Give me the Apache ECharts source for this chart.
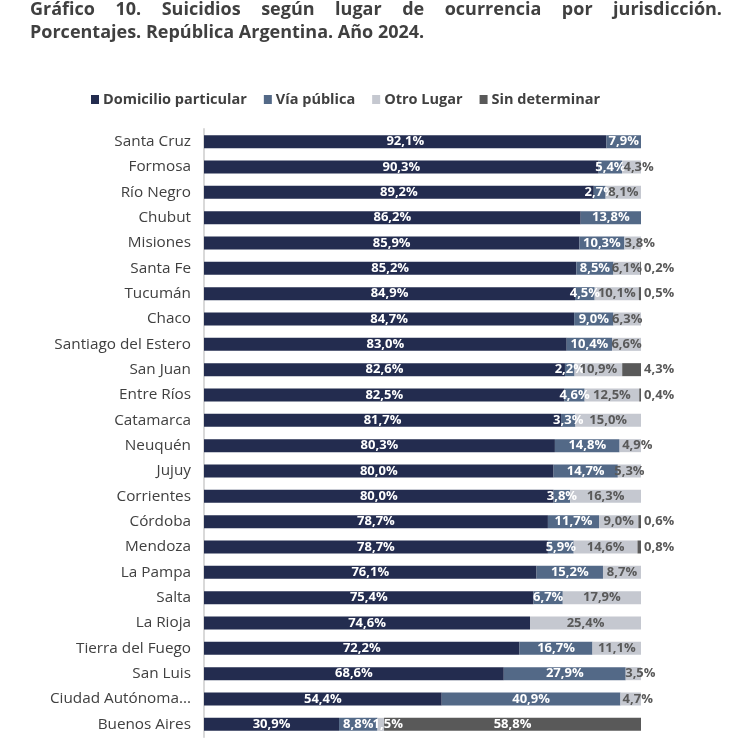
<!DOCTYPE html>
<html>
<head>
<meta charset="utf-8">
<script src="https://cdn.jsdelivr.net/npm/echarts@6/dist/echarts.min.js"></script>
<style>html,body{margin:0;padding:0;background:#fff}#c{width:736px;height:744px}</style>
</head>
<body>
<div id="c"></div>
<script>
var titleLine1 = 'Gráfico 10. Suicidios según lugar de ocurrencia por jurisdicción.';
var titleLine2 = 'Porcentajes. República Argentina. Año 2024.';
var seriesNames = ['Domicilio particular', 'Vía pública', 'Otro Lugar', 'Sin determinar'];
var categories = ['Santa Cruz','Formosa','Río Negro','Chubut','Misiones','Santa Fe','Tucumán','Chaco','Santiago del Estero','San Juan','Entre Ríos','Catamarca','Neuquén','Jujuy','Corrientes','Córdoba','Mendoza','La Pampa','Salta','La Rioja','Tierra del Fuego','San Luis','Ciudad Autónoma de Buenos Aires','Buenos Aires'];
var domicilio = [92.1,90.3,89.2,86.2,85.9,85.2,84.9,84.7,83.0,82.6,82.5,81.7,80.3,80.0,80.0,78.7,78.7,76.1,75.4,74.6,72.2,68.6,54.4,30.9];
var viaPublica = [7.9,5.4,2.7,13.8,10.3,8.5,4.5,9.0,10.4,2.2,4.6,3.3,14.8,14.7,3.8,11.7,5.9,15.2,6.7,0,16.7,27.9,40.9,8.8];
var otroLugar = [0,4.3,8.1,0,3.8,6.1,10.1,6.3,6.6,10.9,12.5,15.0,4.9,5.3,16.3,9.0,14.6,8.7,17.9,25.4,11.1,3.5,4.7,1.5];
var sinDeterminar = [0,0,0,0,0,0.2,0.5,0,0,4.3,0.4,0,0,0,0,0.6,0.8,0,0,0,0,0,0,58.8];

var colors = ['#232C4F', '#536987', '#C5C8D0', '#595959'];
var textDark = '#595959';
var FONT = '"Open Sans", "Noto Sans", sans-serif';

function fmt(v) { return v ? v.toFixed(1).replace('.', ',') + '%' : ''; }

function buildData(arr, idx) {
  return arr.map(function (v, k) {
    var item = { value: v === 0 ? null : v };
    if (idx === 2 && v > 0 && v < 5) {
      item.label = { offset: [7, 0] };
      if (sinDeterminar[k] > 10) item.label.color = '#ffffff';
    }
    if (idx === 3 && v > 0 && v < 5) {
      item.label = { position: 'right', distance: 3, color: textDark };
    }
    return item;
  });
}

var allSeries = [domicilio, viaPublica, otroLugar, sinDeterminar].map(function (arr, i) {
  return {
    name: seriesNames[i],
    type: 'bar',
    stack: 'total',
    barWidth: 13,
    itemStyle: { color: colors[i] },
    label: {
      show: true,
      position: 'inside',
      color: i === 2 ? textDark : '#ffffff',
      fontFamily: FONT,
      fontWeight: 'bold',
      fontSize: 13,
      formatter: function (p) { return fmt(p.value); }
    },
    data: buildData(arr, i)
  };
});

// Justified first title line
var titleFont = 'bold 18px "Open Sans"';
var ctx = document.createElement('canvas').getContext('2d');
ctx.font = titleFont;
var words = titleLine1.split(' ');
var leftX = 30, rightX = 722;
var totalW = 0;
var widths = words.map(function (w) { var m = ctx.measureText(w).width; totalW += m; return m; });
var gap = (rightX - leftX - totalW) / (words.length - 1);
var graphics = [];
var cx = leftX;
words.forEach(function (w, i) {
  graphics.push({ type: 'text', x: cx, y: 10, style: { text: w, font: titleFont, fill: '#404040', verticalAlign: 'middle', align: 'left' } });
  cx += widths[i] + gap;
});
graphics.push({ type: 'text', x: leftX, y: 33, style: { text: titleLine2, font: titleFont, fill: '#404040', verticalAlign: 'middle', align: 'left' } });

var chart = echarts.init(document.getElementById('c'), null, { renderer: 'canvas' });
chart.setOption({
  animation: false,
  graphic: graphics,
  legend: {
    data: seriesNames,
    left: 86,
    top: 87,
    icon: 'rect',
    itemWidth: 8,
    itemHeight: 9,
    itemGap: 17,
    textStyle: { fontFamily: FONT, fontWeight: 'bold', fontSize: 14.5, color: '#404040', padding: [0, 0, 0, -1] }
  },
  grid: { left: 204, right: 95, top: 129, bottom: 7, containLabel: false },
  xAxis: { type: 'value', min: 0, max: 100, show: false },
  yAxis: {
    type: 'category',
    data: categories,
    inverse: true,
    axisTick: { show: false },
    axisLine: { show: true, lineStyle: { color: '#D9D9D9', width: 2 } },
    axisLabel: {
      fontFamily: FONT,
      fontSize: 15.3,
      color: '#404040',
      margin: 13,
      formatter: function (v) { return v.length > 18 && v.indexOf('Ciudad') === 0 ? 'Ciudad Autónoma...' : v; }
    }
  },
  series: allSeries
});
</script>
</body>
</html>
